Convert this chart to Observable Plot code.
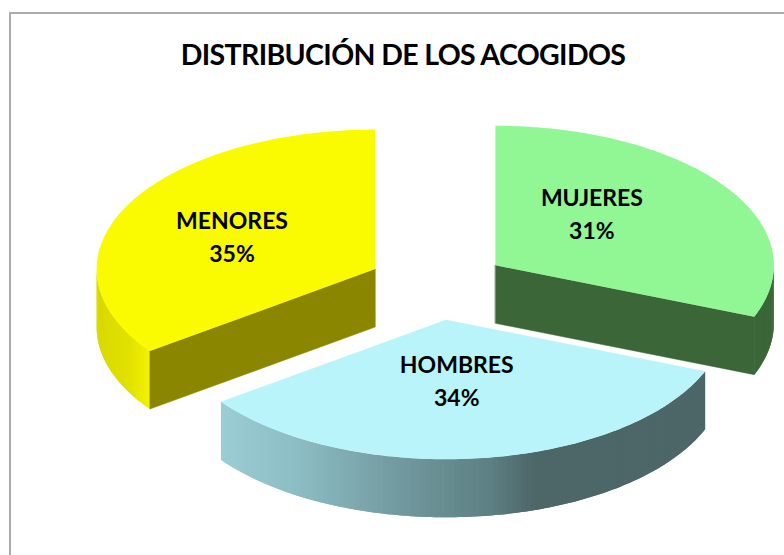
<!DOCTYPE html>
<html lang="es">
<head>
<meta charset="utf-8">
<script src="https://cdn.jsdelivr.net/npm/d3@7"></script>
<script src="https://cdn.jsdelivr.net/npm/@observablehq/plot@0.6"></script>
<style>
  html, body { margin: 0; padding: 0; background: #fff; overflow: hidden; width: 784px; height: 555px; }
  #frame { position: absolute; left: 9px; top: 12px; width: 790px; height: 560px; border: 2px solid #ababab; box-sizing: border-box; }
  #title { position: absolute; left: 0; top: 36px; width: 806px; text-align: center; font: 700 28.5px Lato, sans-serif; letter-spacing: -0.64px; color: #000; line-height: 36px; white-space: nowrap; }
  #chart { position: absolute; left: 0; top: 80px; }
  svg { display: block; }
</style>
</head>
<body>
<div id="frame"></div>
<div id="title">DISTRIBUCIÓN DE LOS ACOGIDOS</div>
<div id="chart"></div>
<script>
// Data, clockwise from twelve o'clock
const categories = ["MUJERES", "HOMBRES", "MENORES"];
const shares = [31, 34, 35];
const topColors = ["#90f794", "#b8f4f9", "#fbfb00"];
const cutColors = ["#3b6638", null, "#8b8600"];
const rimRamps = [
  [[755, "#3b6638"], [775, "#3b6638"]],
  [[222, "#9bcdd4"], [300, "#8cbcc3"], [400, "#71999f"], [490, "#5d8083"], [535, "#4d6668"], [706, "#4d6668"]],
  [[96, "#d8d800"], [130, "#e2e200"], [151, "#f4f400"]]
];
const labelOffsets = [[96, -53.5], [10, 59], [-143.6, -35]];

// Pie geometry, in the pixel-sized units of the x and y scales
const centre = [437.5, 285], rx = 278.5, ry = 139.5, depth = 58, explode = 0.2513;
const rad = (t) => t * Math.PI / 180;
const at = (c, t) => [c[0] + rx * Math.sin(rad(t)), c[1] - ry * Math.cos(rad(t))];

let acc = 0;
const slices = categories.map((name, i) => {
  const a0 = acc * 3.6; acc += shares[i]; const a1 = acc * 3.6;
  const mid = (a0 + a1) / 2;
  const o = [centre[0] + explode * rx * Math.sin(rad(mid)), centre[1] - explode * ry * Math.cos(rad(mid))];
  return { name, share: shares[i], a0, a1, o, top: topColors[i], cut: cutColors[i], ramp: rimRamps[i], off: labelOffsets[i] };
});

const angles = (a0, a1) => { const n = Math.ceil(Math.abs(a1 - a0)); return d3.range(n + 1).map(k => a0 + (a1 - a0) * k / n); };

function topRows(s) {
  return angles(s.a0, s.a1).map(t => { const p = at(s.o, t); return { x1: p[0], y1: p[1], x2: s.o[0], y2: s.o[1], z: s.name, fill: s.top }; });
}
function cutRows(s) {
  const edge = s.a0 > 180 ? s.a0 : s.a1;
  const p = at(s.o, edge);
  return [s.o, p].map(q => ({ x1: q[0], y1: q[1], x2: q[0], y2: q[1] + depth, z: s.name, fill: s.cut }));
}
function rimRows(s) {
  const lo = Math.max(s.a0, 90), hi = Math.min(s.a1, 270);
  const ts = angles(lo, hi);
  const col = d3.scaleLinear().domain(s.ramp.map(d => d[0])).range(s.ramp.map(d => d[1])).clamp(true);
  const rows = [];
  for (let i = 0; i + 1 < ts.length; i++) {
    // each band runs on under the next one so that no seam shows between them
    const p = at(s.o, ts[i]), q = at(s.o, ts[i + 1]), r = at(s.o, ts[Math.min(i + 2, ts.length - 1)]);
    const fill = d3.color(col((p[0] + q[0]) / 2)).formatHex();
    const z = s.name + i;
    [p, q, r].forEach(v => rows.push({ x1: v[0], y1: v[1], x2: v[0], y2: v[1] + depth, z, fill }));
  }
  return rows;
}

const marksFor = (s) => {
  const marks = [];
  const area = (rows, extra = {}) => Plot.area(rows, { x1: "x1", y1: "y1", x2: "x2", y2: "y2", z: "z", fill: "fill", curve: "linear", ...extra });
  marks.push(area(rimRows(s)));
  if (s.cut) marks.push(area(cutRows(s), { stroke: "fill", strokeWidth: 0.5 }));
  marks.push(area(topRows(s)));
  return marks;
};

const labels = slices.map(s => ({ x: s.o[0] + s.off[0], y: s.o[1] + s.off[1], text: `${s.name}\n${s.share}%` }));

// Exploded wedges: the lower (blue) wedge is painted after the two upper ones
const order = [slices[2], slices[0], slices[1]];
const chart = Plot.plot({
  width: 784, height: 475,
  margin: 0,
  x: { domain: [0, 784], axis: null },
  y: { domain: [555, 80], axis: null },
  color: { type: "identity" },
  style: { background: "transparent" },
  marks: [
    ...order.flatMap(marksFor),
    Plot.text(labels, { x: "x", y: "y", text: "text", fontFamily: "Lato, sans-serif", fontWeight: 700, fontSize: 23, lineHeight: 1.43, fill: "#000" })
  ]
});
document.getElementById("chart").append(chart);
</script>
</body>
</html>
